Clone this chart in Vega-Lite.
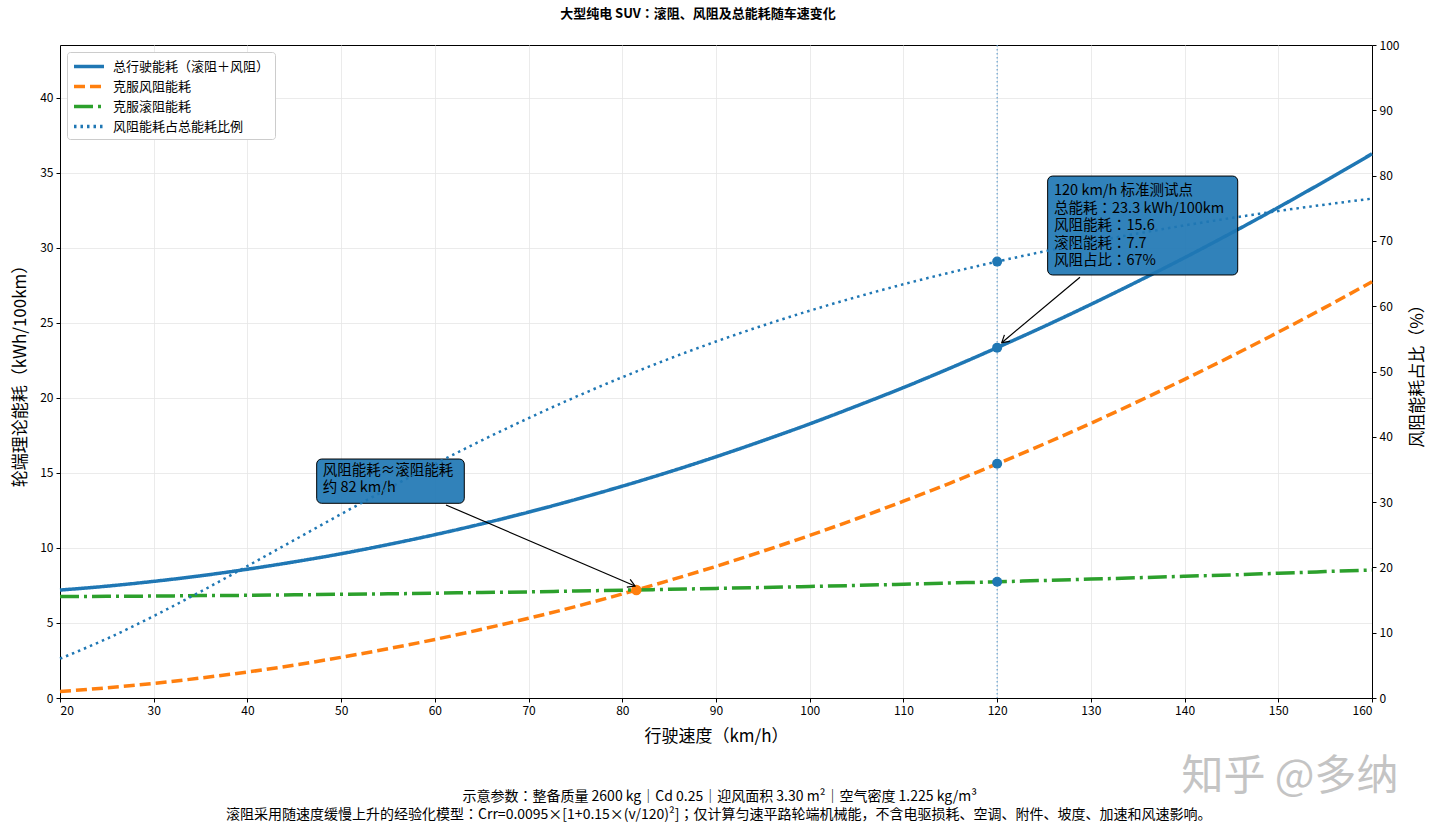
{
  "$schema": "https://vega.github.io/schema/vega-lite/v6.json",
  "width": 1312,
  "height": 653,
  "autosize": {"type": "none"},
  "padding": {"left": 60, "top": 45, "right": 68, "bottom": 136},
  "background": "white",
  "config": {
    "font": "Noto Sans CJK JP",
    "view": {"stroke": "#000000", "strokeWidth": 1},
    "axis": {
      "labelFontSize": 12,
      "labelColor": "#000000",
      "tickColor": "#000000",
      "domainColor": "#000000",
      "tickSize": 4,
      "labelPadding": 3,
      "titleFontSize": 17,
      "titleFontWeight": "normal",
      "titleColor": "#000000",
      "gridColor": "#e6e6e6",
      "gridWidth": 0.8
    }
  },
  "title": {
    "text": "大型纯电 SUV：滚阻、风阻及总能耗随车速变化",
    "fontSize": 13,
    "fontWeight": "bold",
    "color": "#000000",
    "anchor": "middle",
    "dx": -18,
    "offset": 18
  },
  "datasets": {
    "curves": [
      {"v": 20, "s": "总行驶能耗（滚阻＋风阻）", "e": 7.19},
      {"v": 25, "s": "总行驶能耗（滚阻＋风阻）", "e": 7.45},
      {"v": 30, "s": "总行驶能耗（滚阻＋风阻）", "e": 7.77},
      {"v": 35, "s": "总行驶能耗（滚阻＋风阻）", "e": 8.14},
      {"v": 40, "s": "总行驶能耗（滚阻＋风阻）", "e": 8.58},
      {"v": 45, "s": "总行驶能耗（滚阻＋风阻）", "e": 9.07},
      {"v": 50, "s": "总行驶能耗（滚阻＋风阻）", "e": 9.61},
      {"v": 55, "s": "总行驶能耗（滚阻＋风阻）", "e": 10.22},
      {"v": 60, "s": "总行驶能耗（滚阻＋风阻）", "e": 10.88},
      {"v": 65, "s": "总行驶能耗（滚阻＋风阻）", "e": 11.60},
      {"v": 70, "s": "总行驶能耗（滚阻＋风阻）", "e": 12.38},
      {"v": 75, "s": "总行驶能耗（滚阻＋风阻）", "e": 13.22},
      {"v": 80, "s": "总行驶能耗（滚阻＋风阻）", "e": 14.11},
      {"v": 85, "s": "总行驶能耗（滚阻＋风阻）", "e": 15.06},
      {"v": 90, "s": "总行驶能耗（滚阻＋风阻）", "e": 16.07},
      {"v": 95, "s": "总行驶能耗（滚阻＋风阻）", "e": 17.14},
      {"v": 100, "s": "总行驶能耗（滚阻＋风阻）", "e": 18.26},
      {"v": 105, "s": "总行驶能耗（滚阻＋风阻）", "e": 19.45},
      {"v": 110, "s": "总行驶能耗（滚阻＋风阻）", "e": 20.68},
      {"v": 115, "s": "总行驶能耗（滚阻＋风阻）", "e": 21.98},
      {"v": 120, "s": "总行驶能耗（滚阻＋风阻）", "e": 23.34},
      {"v": 125, "s": "总行驶能耗（滚阻＋风阻）", "e": 24.75},
      {"v": 130, "s": "总行驶能耗（滚阻＋风阻）", "e": 26.22},
      {"v": 135, "s": "总行驶能耗（滚阻＋风阻）", "e": 27.75},
      {"v": 140, "s": "总行驶能耗（滚阻＋风阻）", "e": 29.33},
      {"v": 145, "s": "总行驶能耗（滚阻＋风阻）", "e": 30.98},
      {"v": 150, "s": "总行驶能耗（滚阻＋风阻）", "e": 32.68},
      {"v": 155, "s": "总行驶能耗（滚阻＋风阻）", "e": 34.44},
      {"v": 160, "s": "总行驶能耗（滚阻＋风阻）", "e": 36.25},
      {"v": 20, "s": "克服风阻能耗", "e": 0.43},
      {"v": 25, "s": "克服风阻能耗", "e": 0.68},
      {"v": 30, "s": "克服风阻能耗", "e": 0.97},
      {"v": 35, "s": "克服风阻能耗", "e": 1.33},
      {"v": 40, "s": "克服风阻能耗", "e": 1.73},
      {"v": 45, "s": "克服风阻能耗", "e": 2.19},
      {"v": 50, "s": "克服风阻能耗", "e": 2.71},
      {"v": 55, "s": "克服风阻能耗", "e": 3.28},
      {"v": 60, "s": "克服风阻能耗", "e": 3.90},
      {"v": 65, "s": "克服风阻能耗", "e": 4.58},
      {"v": 70, "s": "克服风阻能耗", "e": 5.31},
      {"v": 75, "s": "克服风阻能耗", "e": 6.09},
      {"v": 80, "s": "克服风阻能耗", "e": 6.93},
      {"v": 85, "s": "克服风阻能耗", "e": 7.83},
      {"v": 90, "s": "克服风阻能耗", "e": 8.77},
      {"v": 95, "s": "克服风阻能耗", "e": 9.78},
      {"v": 100, "s": "克服风阻能耗", "e": 10.83},
      {"v": 105, "s": "克服风阻能耗", "e": 11.94},
      {"v": 110, "s": "克服风阻能耗", "e": 13.11},
      {"v": 115, "s": "克服风阻能耗", "e": 14.32},
      {"v": 120, "s": "克服风阻能耗", "e": 15.60},
      {"v": 125, "s": "克服风阻能耗", "e": 16.92},
      {"v": 130, "s": "克服风阻能耗", "e": 18.30},
      {"v": 135, "s": "克服风阻能耗", "e": 19.74},
      {"v": 140, "s": "克服风阻能耗", "e": 21.23},
      {"v": 145, "s": "克服风阻能耗", "e": 22.77},
      {"v": 150, "s": "克服风阻能耗", "e": 24.37},
      {"v": 155, "s": "克服风阻能耗", "e": 26.02},
      {"v": 160, "s": "克服风阻能耗", "e": 27.73},
      {"v": 20, "s": "克服滚阻能耗", "e": 6.76},
      {"v": 25, "s": "克服滚阻能耗", "e": 6.77},
      {"v": 30, "s": "克服滚阻能耗", "e": 6.79},
      {"v": 35, "s": "克服滚阻能耗", "e": 6.82},
      {"v": 40, "s": "克服滚阻能耗", "e": 6.84},
      {"v": 45, "s": "克服滚阻能耗", "e": 6.87},
      {"v": 50, "s": "克服滚阻能耗", "e": 6.91},
      {"v": 55, "s": "克服滚阻能耗", "e": 6.94},
      {"v": 60, "s": "克服滚阻能耗", "e": 6.98},
      {"v": 65, "s": "克服滚阻能耗", "e": 7.03},
      {"v": 70, "s": "克服滚阻能耗", "e": 7.07},
      {"v": 75, "s": "克服滚阻能耗", "e": 7.13},
      {"v": 80, "s": "克服滚阻能耗", "e": 7.18},
      {"v": 85, "s": "克服滚阻能耗", "e": 7.24},
      {"v": 90, "s": "克服滚阻能耗", "e": 7.30},
      {"v": 95, "s": "克服滚阻能耗", "e": 7.36},
      {"v": 100, "s": "克服滚阻能耗", "e": 7.43},
      {"v": 105, "s": "克服滚阻能耗", "e": 7.50},
      {"v": 110, "s": "克服滚阻能耗", "e": 7.58},
      {"v": 115, "s": "克服滚阻能耗", "e": 7.66},
      {"v": 120, "s": "克服滚阻能耗", "e": 7.74},
      {"v": 125, "s": "克服滚阻能耗", "e": 7.83},
      {"v": 130, "s": "克服滚阻能耗", "e": 7.92},
      {"v": 135, "s": "克服滚阻能耗", "e": 8.01},
      {"v": 140, "s": "克服滚阻能耗", "e": 8.11},
      {"v": 145, "s": "克服滚阻能耗", "e": 8.20},
      {"v": 150, "s": "克服滚阻能耗", "e": 8.31},
      {"v": 155, "s": "克服滚阻能耗", "e": 8.42},
      {"v": 160, "s": "克服滚阻能耗", "e": 8.53}
    ],
    "ratio": [
      {"v": 20, "s": "风阻能耗占总能耗比例", "e": 6.02},
      {"v": 25, "s": "风阻能耗占总能耗比例", "e": 9.08},
      {"v": 30, "s": "风阻能耗占总能耗比例", "e": 12.55},
      {"v": 35, "s": "风阻能耗占总能耗比例", "e": 16.29},
      {"v": 40, "s": "风阻能耗占总能耗比例", "e": 20.21},
      {"v": 45, "s": "风阻能耗占总能耗比例", "e": 24.19},
      {"v": 50, "s": "风阻能耗占总能耗比例", "e": 28.17},
      {"v": 55, "s": "风阻能耗占总能耗比例", "e": 32.06},
      {"v": 60, "s": "风阻能耗占总能耗比例", "e": 35.83},
      {"v": 65, "s": "风阻能耗占总能耗比例", "e": 39.44},
      {"v": 70, "s": "风阻能耗占总能耗比例", "e": 42.86},
      {"v": 75, "s": "风阻能耗占总能耗比例", "e": 46.09},
      {"v": 80, "s": "风阻能耗占总能耗比例", "e": 49.12},
      {"v": 85, "s": "风阻能耗占总能耗比例", "e": 51.95},
      {"v": 90, "s": "风阻能耗占总能耗比例", "e": 54.59},
      {"v": 95, "s": "风阻能耗占总能耗比例", "e": 57.04},
      {"v": 100, "s": "风阻能耗占总能耗比例", "e": 59.31},
      {"v": 105, "s": "风阻能耗占总能耗比例", "e": 61.41},
      {"v": 110, "s": "风阻能耗占总能耗比例", "e": 63.36},
      {"v": 115, "s": "风阻能耗占总能耗比例", "e": 65.16},
      {"v": 120, "s": "风阻能耗占总能耗比例", "e": 66.83},
      {"v": 125, "s": "风阻能耗占总能耗比例", "e": 68.38},
      {"v": 130, "s": "风阻能耗占总能耗比例", "e": 69.81},
      {"v": 135, "s": "风阻能耗占总能耗比例", "e": 71.14},
      {"v": 140, "s": "风阻能耗占总能耗比例", "e": 72.37},
      {"v": 145, "s": "风阻能耗占总能耗比例", "e": 73.51},
      {"v": 150, "s": "风阻能耗占总能耗比例", "e": 74.58},
      {"v": 155, "s": "风阻能耗占总能耗比例", "e": 75.56},
      {"v": 160, "s": "风阻能耗占总能耗比例", "e": 76.48}
    ]
  },
  "layer": [
    {
      "layer": [
        {
          "data": {"name": "curves"},
          "mark": {"type": "line", "strokeWidth": 3.5, "interpolate": "monotone"},
          "encoding": {
            "x": {
              "field": "v",
              "type": "quantitative",
              "scale": {"domain": [20, 160], "nice": false},
              "axis": {
                "title": "行驶速度（km/h）",
                "values": [20, 30, 40, 50, 60, 70, 80, 90, 100, 110, 120, 130, 140, 150, 160],
                "grid": true,
                "titlePadding": 12
              }
            },
            "y": {
              "field": "e",
              "type": "quantitative",
              "scale": {"domain": [0, 43.5], "nice": false},
              "axis": {
                "title": "轮端理论能耗（kWh/100km）",
                "values": [0, 5, 10, 15, 20, 25, 30, 35, 40],
                "grid": true,
                "titlePadding": 10
              }
            },
            "color": {
              "field": "s",
              "type": "nominal",
              "scale": {
                "domain": ["总行驶能耗（滚阻＋风阻）", "克服风阻能耗", "克服滚阻能耗", "风阻能耗占总能耗比例"],
                "range": ["#1f77b4", "#ff7f0e", "#2ca02c", "#1f77b4"]
              },
              "legend": {
                "title": null,
                "orient": "top-left",
                "offset": 7,
                "fillColor": "white",
                "strokeColor": "#cccccc",
                "cornerRadius": 3,
                "padding": 5,
                "labelFontSize": 13,
                "labelColor": "#000000",
                "symbolType": "M-1,0L3,0",
                "symbolStrokeWidth": 3.5,
                "symbolSize": 225,
                "rowPadding": 3,
                "labelOffset": 22,
                "labelLimit": 400
              }
            },
            "strokeDash": {
              "field": "s",
              "type": "nominal",
              "scale": {
                "domain": ["总行驶能耗（滚阻＋风阻）", "克服风阻能耗", "克服滚阻能耗", "风阻能耗占总能耗比例"],
                "range": [[1, 0], [11, 5], [19, 5, 3, 5], [2.5, 4]]
              },
              "legend": {
                "title": null,
                "orient": "top-left",
                "offset": 7,
                "fillColor": "white",
                "strokeColor": "#cccccc",
                "cornerRadius": 3,
                "padding": 5,
                "labelFontSize": 13,
                "labelColor": "#000000",
                "symbolType": "M-1,0L3,0",
                "symbolStrokeWidth": 3.5,
                "symbolSize": 225,
                "rowPadding": 3,
                "labelOffset": 22,
                "labelLimit": 400
              }
            }
          }
        },
        {
          "data": {"values": [{"v": 120}]},
          "mark": {"type": "rule", "color": "#4a90c8", "strokeWidth": 1.1, "strokeDash": [1.5, 2.5], "opacity": 0.9},
          "encoding": {"x": {"field": "v", "type": "quantitative"}}
        },
        {
          "data": {"values": [{"v": 120, "e": 23.34}, {"v": 120, "e": 15.6}, {"v": 120, "e": 7.74}]},
          "mark": {"type": "point", "filled": true, "color": "#1f77b4", "size": 100, "opacity": 1},
          "encoding": {
            "x": {"field": "v", "type": "quantitative"},
            "y": {"field": "e", "type": "quantitative"}
          }
        },
        {
          "data": {"values": [{"v": 81.5, "e": 7.19}]},
          "mark": {"type": "point", "filled": true, "color": "#ff7f0e", "size": 110, "opacity": 1},
          "encoding": {
            "x": {"field": "v", "type": "quantitative"},
            "y": {"field": "e", "type": "quantitative"}
          }
        },
        {
          "data": {"values": [
            {"v": 61.19, "e": 12.86, "v2": 81.36, "e2": 7.46},
            {"v": 128.84, "e": 28.03, "v2": 120.49, "e2": 23.67}
          ]},
          "mark": {"type": "rule", "color": "#000000", "strokeWidth": 1.2},
          "encoding": {
            "x": {"field": "v", "type": "quantitative"},
            "y": {"field": "e", "type": "quantitative"},
            "x2": {"field": "v2"},
            "y2": {"field": "e2"}
          }
        },
        {
          "data": {"values": [{"v": 81.36, "e": 7.46}]},
          "mark": {"type": "point", "shape": "M-0.6,1L0,0L0.6,1", "filled": false, "color": "#000000", "strokeWidth": 1.2, "size": 200, "angle": 113, "opacity": 1},
          "encoding": {
            "x": {"field": "v", "type": "quantitative"},
            "y": {"field": "e", "type": "quantitative"}
          }
        },
        {
          "data": {"values": [{"v": 120.49, "e": 23.67}]},
          "mark": {"type": "point", "shape": "M-0.6,1L0,0L0.6,1", "filled": false, "color": "#000000", "strokeWidth": 1.2, "size": 200, "angle": 230, "opacity": 1},
          "encoding": {
            "x": {"field": "v", "type": "quantitative"},
            "y": {"field": "e", "type": "quantitative"}
          }
        },
        {
          "data": {"values": [
            {"v": 47.39, "v2": 63.14, "e": 15.92, "e2": 12.97},
            {"v": 125.39, "v2": 145.67, "e": 34.77, "e2": 28.18}
          ]},
          "mark": {"type": "rect", "fill": "#1f77b4", "fillOpacity": 0.92, "stroke": "#000000", "strokeWidth": 1, "cornerRadius": 5},
          "encoding": {
            "x": {"field": "v", "type": "quantitative"},
            "x2": {"field": "v2"},
            "y": {"field": "e", "type": "quantitative"},
            "y2": {"field": "e2"}
          }
        },
        {
          "data": {"values": [
            {"v": 48.03, "e": 15.59, "label": "风阻能耗≈滚阻能耗\n约 82 km/h"},
            {"v": 126.07, "e": 34.23, "label": "120 km/h 标准测试点\n总能耗：23.3 kWh/100km\n风阻能耗：15.6\n滚阻能耗：7.7\n风阻占比：67%"}
          ]},
          "mark": {"type": "text", "align": "left", "baseline": "top", "fontSize": 14.5, "lineHeight": 17.5, "lineBreak": "\n", "color": "#000000"},
          "encoding": {
            "x": {"field": "v", "type": "quantitative"},
            "y": {"field": "e", "type": "quantitative"},
            "text": {"field": "label"}
          }
        },
        {
          "data": {"values": [
            {"v": 90.4, "e": -6.59, "label": "示意参数：整备质量 2600 kg｜Cd 0.25｜迎风面积 3.30 m²｜空气密度 1.225 kg/m³"},
            {"v": 90.3, "e": -7.79, "label": "滚阻采用随速度缓慢上升的经验化模型：Crr=0.0095×[1+0.15×(v/120)²]；仅计算匀速平路轮端机械能，不含电驱损耗、空调、附件、坡度、加速和风速影响。"}
          ]},
          "mark": {"type": "text", "align": "center", "baseline": "middle", "fontSize": 14, "color": "#000000"},
          "encoding": {
            "x": {"field": "v", "type": "quantitative"},
            "y": {"field": "e", "type": "quantitative", "scale": {"domain": [0, 43.5], "nice": false}},
            "text": {"field": "label"}
          }
        },
        {
          "data": {"values": [{"v": 151.25, "e": -5.26, "label": "知乎 @多纳"}]},
          "mark": {"type": "text", "align": "center", "baseline": "middle", "fontSize": 42, "color": "#c4c4c4"},
          "encoding": {
            "x": {"field": "v", "type": "quantitative"},
            "y": {"field": "e", "type": "quantitative", "scale": {"domain": [0, 43.5], "nice": false}},
            "text": {"field": "label"}
          }
        }
      ]
    },
    {
      "layer": [
        {
          "data": {"name": "ratio"},
          "mark": {"type": "line", "strokeWidth": 2.5, "interpolate": "monotone"},
          "encoding": {
            "x": {"field": "v", "type": "quantitative"},
            "y": {
              "field": "e",
              "type": "quantitative",
              "scale": {"domain": [0, 100], "nice": false},
              "axis": {
                "title": "风阻能耗占比（%）",
                "orient": "right",
                "values": [0, 10, 20, 30, 40, 50, 60, 70, 80, 90, 100],
                "grid": false,
                "titleAngle": 270,
                "titleBaseline": "top",
                "titlePadding": 11
              }
            },
            "color": {"field": "s", "type": "nominal"},
            "strokeDash": {"field": "s", "type": "nominal"}
          }
        },
        {
          "data": {"values": [{"v": 120, "e": 66.83}]},
          "mark": {"type": "point", "filled": true, "color": "#1f77b4", "size": 100, "opacity": 1},
          "encoding": {
            "x": {"field": "v", "type": "quantitative"},
            "y": {"field": "e", "type": "quantitative"}
          }
        }
      ]
    }
  ],
  "resolve": {"scale": {"y": "independent"}}
}
